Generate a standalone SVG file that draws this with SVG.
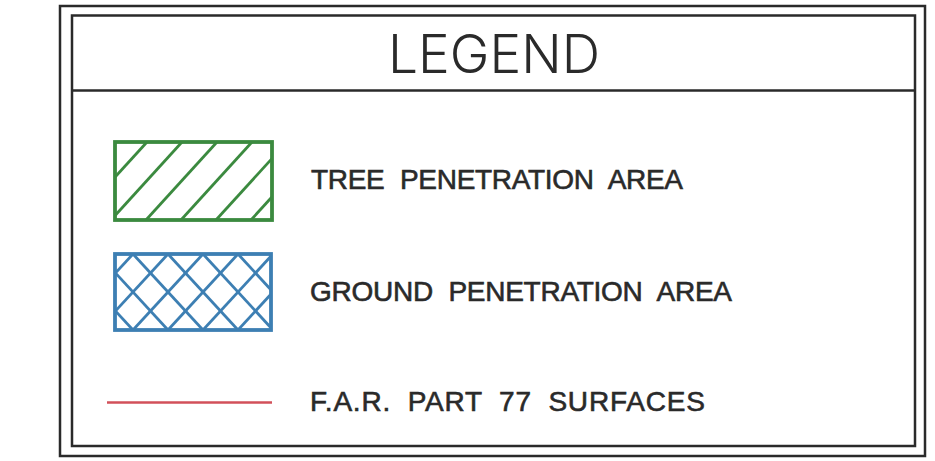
<svg xmlns="http://www.w3.org/2000/svg" width="935" height="461" viewBox="0 0 935 461">
  <style>
    .frame { fill: none; stroke: #2a2a2a; stroke-width: 2.5; }
    .label { font-family: "Liberation Sans", Arial, sans-serif; font-size: 28px; fill: #2a2a2a; stroke: #2a2a2a; stroke-width: 0.6; word-spacing: 8px; }
    .title { font-family: Inter, "Liberation Sans", sans-serif; font-weight: 300; font-size: 53px; fill: #2a2a2a; }
    .green { stroke: #3b8a3f; fill: none; }
    .blue { stroke: #3d7fb3; fill: none; }
  </style>
  <defs>
    <clipPath id="clipGreen"><rect x="115" y="142" width="157" height="78"/></clipPath>
    <clipPath id="clipBlue"><rect x="115" y="254" width="156" height="76"/></clipPath>
  </defs>
  <rect width="935" height="461" fill="#ffffff"/>

  <g id="frame">
    <rect class="frame" x="60" y="6" width="865" height="450"/>
    <rect class="frame" x="72" y="15.5" width="843" height="430.5"/>
    <line class="frame" x1="72" y1="90.5" x2="915" y2="90.5"/>
    <text class="title" x="494" y="73" text-anchor="middle" textLength="212" lengthAdjust="spacingAndGlyphs">LEGEND</text>
  </g>

  <g id="tree-penetration">
    <g clip-path="url(#clipGreen)" class="green" stroke-width="2.8">
      <line x1="147" y1="142" x2="76" y2="220"/>
      <line x1="182" y1="142" x2="111" y2="220"/>
      <line x1="217" y1="142" x2="146" y2="220"/>
      <line x1="252" y1="142" x2="181" y2="220"/>
      <line x1="287" y1="142" x2="216" y2="220"/>
      <line x1="322" y1="142" x2="251" y2="220"/>
    </g>
    <rect class="green" x="115" y="142" width="157" height="78" stroke-width="3.8"/>
    <text class="label" x="311" y="189" textLength="372" lengthAdjust="spacing">TREE PENETRATION AREA</text>
  </g>

  <g id="ground-penetration">
    <g clip-path="url(#clipBlue)" class="blue" stroke-width="2.8">
      <line x1="28" y1="254" x2="98" y2="330"/>
      <line x1="63" y1="254" x2="133" y2="330"/>
      <line x1="98" y1="254" x2="168" y2="330"/>
      <line x1="133" y1="254" x2="203" y2="330"/>
      <line x1="168" y1="254" x2="238" y2="330"/>
      <line x1="203" y1="254" x2="273" y2="330"/>
      <line x1="238" y1="254" x2="308" y2="330"/>
      <line x1="133" y1="254" x2="63" y2="330"/>
      <line x1="168" y1="254" x2="98" y2="330"/>
      <line x1="203" y1="254" x2="133" y2="330"/>
      <line x1="238" y1="254" x2="168" y2="330"/>
      <line x1="273" y1="254" x2="203" y2="330"/>
      <line x1="308" y1="254" x2="238" y2="330"/>
      <line x1="343" y1="254" x2="273" y2="330"/>
    </g>
    <rect class="blue" x="115" y="254" width="156" height="76" stroke-width="3.8"/>
    <text class="label" x="310" y="300.5" textLength="422" lengthAdjust="spacing">GROUND PENETRATION AREA</text>
  </g>

  <g id="far-part-77">
    <line x1="107" y1="402.5" x2="272" y2="402.5" stroke="#d2505a" stroke-width="2.5"/>
    <text class="label" x="310" y="411" textLength="395" lengthAdjust="spacing">F.A.R. PART 77 SURFACES</text>
  </g>
</svg>
